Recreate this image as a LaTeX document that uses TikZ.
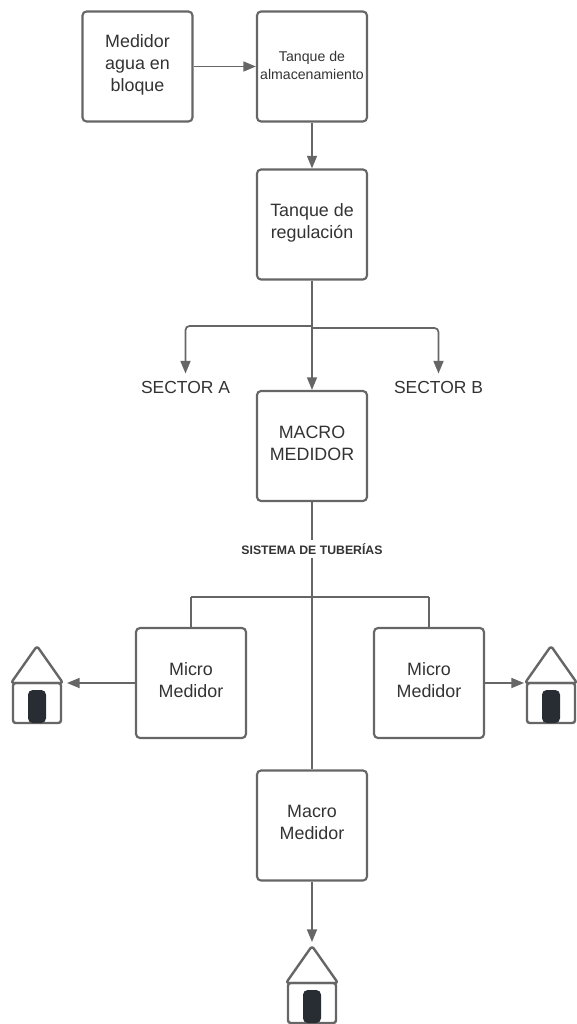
\documentclass[tikz,border=0pt]{standalone}
\usepackage{fontspec}
\setmainfont{Liberation Sans}
\usetikzlibrary{arrows, arrows.meta}
\usetikzlibrary{calc}
\definecolor{linegray}{HTML}{666666}
\definecolor{textgray}{HTML}{333333}
\definecolor{doordark}{HTML}{282C33}
\tikzset{
  block/.style={draw=linegray, line width=1.6pt, rounded corners=3pt, inner sep=0pt, text depth=4.5pt,
    minimum width=82.5pt, minimum height=82.5pt, align=center, text=textgray, font=\fontsize{13.4}{16.5}\selectfont},
  tag/.style={text=textgray, font=\fontsize{13.1}{15}\selectfont, inner sep=0pt},
  pipe/.style={draw=linegray, line width=1.3pt},
  trunk/.style={draw=linegray, line width=2pt},
  feed/.style={pipe, -{Triangle[length=9.5pt, width=7.5pt]}},
  wall/.style={draw=linegray, line width=1.8pt, line join=round, rounded corners=2pt},
}
\newcommand{\housemark}[1]{
  \draw[wall] ($(#1)+(-24,0)$) rectangle ($(#1)+(24,40)$);
  \draw[wall] ($(#1)+(-26,0)$) -- ($(#1)+(0,-37)$) -- ($(#1)+(26,0)$) -- cycle;
  \fill[doordark, rounded corners=3.5pt] ($(#1)+(-9,7)$) rectangle ($(#1)+(9,40)$);
}
\begin{document}
\begin{tikzpicture}[x=0.75pt, y=-0.75pt]
    \useasboundingbox (0,0) rectangle (576,1024);

    \node[block] (medidor) at (137.5,66.5) {Medidor\\agua en\\bloque};
    \node[block, text depth=2pt, font=\fontsize{10.6}{13.5}\selectfont] (almacen) at (312,66.5) {Tanque de\\almacenamiento};
    \node[block] (regula) at (312,224.5) {Tanque de\\regulación};
    \node[block] (macro) at (312,446) {MACRO\\MEDIDOR};
    \node[block] (microa) at (191,683) {Micro\\Medidor};
    \node[block] (microb) at (429,683) {Micro\\Medidor};
    \node[block] (macrob) at (312,825.5) {Macro\\Medidor};

    \node[tag] (sectora) at (185.5,387) {SECTOR A};
    \node[tag] (sectorb) at (438.5,387) {SECTOR B};

    \coordinate (hogara) at (37,683);
    \coordinate (hogarb) at (551,683);
    \coordinate (hogarc) at (312,983);
    \coordinate (ramal) at (312,326);
    \coordinate (troncal) at (312,597);

    \housemark{hogara}
    \housemark{hogarb}
    \housemark{hogarc}

    \draw[feed] (medidor) -- (almacen);
    \draw[feed] (almacen) -- (regula);
    \draw[feed] (regula) -- (macro);
    \draw[feed, rounded corners=3pt] (ramal) -- (185.5,326) -- ($(sectora.north)+(0,-7)$);
    \draw[feed, rounded corners=3pt] ($(ramal)+(0,2)$) -- (438.5,328) -- ($(sectorb.north)+(0,-7)$);

    \draw[trunk] (macro) -- (macrob);
    \draw[trunk] (microa.north |- troncal) -- (microb.north |- troncal);
    \draw[trunk] (microa.north |- troncal) -- (microa.north);
    \draw[trunk] (microb.north |- troncal) -- (microb.north);
    \node[fill=white, text=textgray, inner sep=0pt, minimum height=13.5pt, font=\fontsize{9.2}{11}\bfseries\selectfont] (sistema) at (312,549) {SISTEMA DE TUBERÍAS};

    \draw[feed] (microa) -- ($(hogara)+(30,0)$);
    \draw[feed] (microb) -- ($(hogarb)+(-27,0)$);
    \draw[feed] (macrob) -- ($(hogarc)+(0,-41)$);
\end{tikzpicture}
\end{document}
